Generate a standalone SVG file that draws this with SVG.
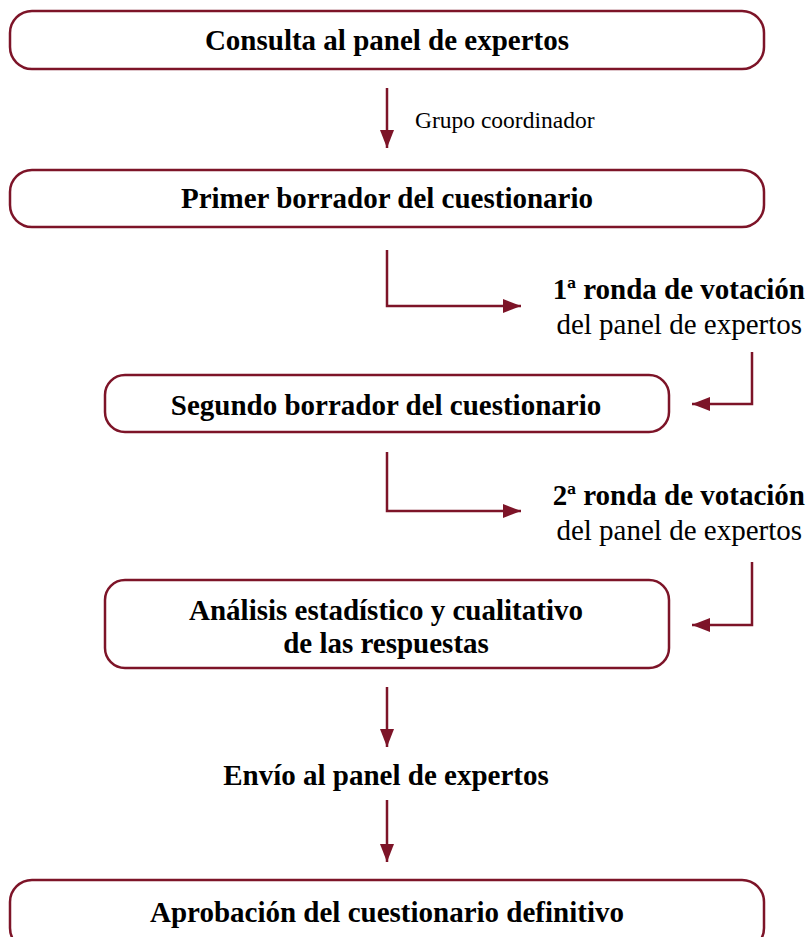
<svg xmlns="http://www.w3.org/2000/svg" width="809" height="937" viewBox="0 0 809 937">
<defs>
<marker id="ah" markerWidth="18" markerHeight="14" refX="18" refY="7" orient="auto" markerUnits="userSpaceOnUse">
<path d="M0,0 L18,7 L0,14 Z" fill="#7d1428"/>
</marker>
<style>
.box{fill:#fff;stroke:#7d1428;stroke-width:2.5}
.c{fill:none;stroke:#7d1428;stroke-width:2.5;marker-end:url(#ah)}
.b{font-family:"Liberation Serif","Times New Roman",serif;font-weight:bold;font-size:29px;fill:#000;text-anchor:middle}
.r{font-family:"Liberation Serif","Times New Roman",serif;font-size:29px;fill:#000}
.s{font-family:"Liberation Serif","Times New Roman",serif;font-size:23.5px;fill:#000}
</style>
</defs>
<rect width="809" height="937" fill="#fff"/>
<g id="connectors">
<path class="c" d="M387,88 V148"/>
<path class="c" d="M387,250 V306 H521"/>
<path class="c" d="M752,352 V404 H692"/>
<path class="c" d="M387,452 V511 H521"/>
<path class="c" d="M752,562 V625 H692"/>
<path class="c" d="M387,687 V747"/>
<path class="c" d="M387,800 V862"/>
</g>
<g id="label-grupo"><text class="s" x="415" y="128">Grupo coordinador</text></g>
<g id="n1"><rect class="box" x="10" y="11" width="754" height="58" rx="22"/><text class="b" x="387" y="50">Consulta al panel de expertos</text></g>
<g id="n2"><rect class="box" x="10" y="170" width="754" height="57" rx="22"/><text class="b" x="387" y="208">Primer borrador del cuestionario</text></g>
<g id="ronda1"><text class="b" x="805" y="299" style="text-anchor:end">1ª ronda de votación</text><text class="r" x="802" y="334" style="text-anchor:end">del panel de expertos</text></g>
<g id="n3"><rect class="box" x="105" y="375" width="564" height="57" rx="20"/><text class="b" x="386" y="415">Segundo borrador del cuestionario</text></g>
<g id="ronda2"><text class="b" x="805" y="505" style="text-anchor:end">2ª ronda de votación</text><text class="r" x="802" y="540" style="text-anchor:end">del panel de expertos</text></g>
<g id="n4"><rect class="box" x="105" y="580" width="564" height="88" rx="20"/><text class="b" x="386" y="620">Análisis estadístico y cualitativo</text><text class="b" x="386" y="653">de las respuestas</text></g>
<g id="n5"><text class="b" x="386" y="785">Envío al panel de expertos</text></g>
<g id="n6"><rect class="box" x="10" y="880" width="754" height="70" rx="22"/><text class="b" x="387" y="922">Aprobación del cuestionario definitivo</text></g>
</svg>
